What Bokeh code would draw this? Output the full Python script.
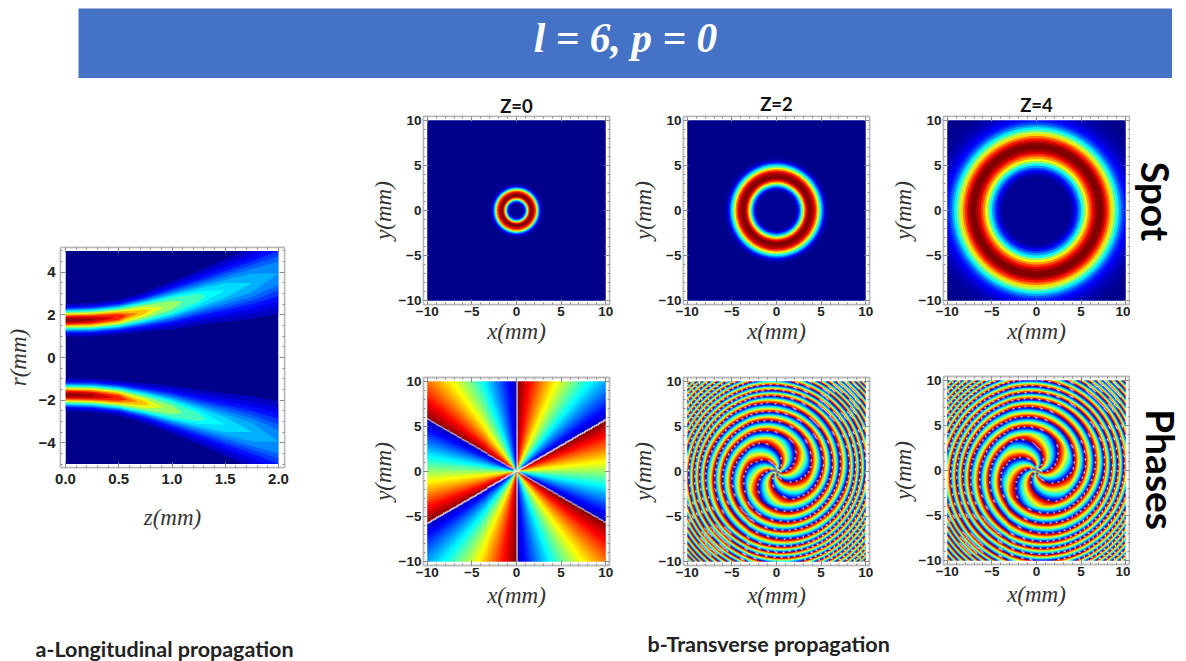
import numpy as np
from bokeh.core.properties import value
from bokeh.embed import file_html
from bokeh.layouts import column, row
from bokeh.models import ColumnDataSource, FixedTicker, LinearAxis, LinearColorMapper, Range1d, Title
from bokeh.plotting import figure
from bokeh.resources import INLINE

# ---------- axes ----------
panel_ticks = [-10, -5, 0, 5, 10]
panel_minor = [-9, -8, -7, -6, -4, -3, -2, -1, 1, 2, 3, 4, 6, 7, 8, 9]
z_ticks = [0.0, 0.5, 1.0, 1.5, 2.0]
z_tick_labels = ["0.0", "0.5", "1.0", "1.5", "2.0"]
z_minor = [0.1, 0.2, 0.3, 0.4, 0.6, 0.7, 0.8, 0.9, 1.1, 1.2, 1.3, 1.4, 1.6, 1.7, 1.8, 1.9]
r_ticks = [-4, -2, 0, 2, 4]
r_minor = [-5, -4.5, -3.5, -3, -2.5, -1.5, -1, -0.5, 0.5, 1, 1.5, 2.5, 3, 3.5, 4.5, 5]

# ---------- transverse spots: ring outer radius (mm) and intensity ----------
spot0_r = [3.1, 3.0, 2.9, 2.8, 2.7, 2.6, 2.5, 2.4, 2.3, 2.2, 2.05, 1.9, 1.8, 1.7, 1.6, 1.5, 1.4, 1.3, 1.2, 1.1, 1.0, 0.9, 0.8, 0.7]
spot0_v = [.01, .02, .04, .08, .14, .24, .36, .50, .66, .80, .90, .97, 1.0, 1.0, .97, .88, .74, .58, .42, .26, .14, .07, .03, .01]
spot2_r = [5.95, 5.8, 5.65, 5.5, 5.35, 5.2, 5.05, 4.9, 4.75, 4.6, 4.45, 4.3, 4.1, 3.85, 3.7, 3.55, 3.4, 3.25, 3.1, 2.95, 2.8, 2.65, 2.5, 2.35, 2.2, 2.05]
spot2_v = [.01, .02, .05, .10, .17, .27, .37, .49, .62, .74, .84, .92, .98, 1.0, 1.0, .95, .86, .74, .60, .45, .32, .20, .11, .05, .02, .01]
spot4_r = [13, 12.5, 12, 11.5, 11, 10.75, 10.5, 10.25, 10, 9.75, 9.5, 9.25, 9, 8.75, 8.5, 8.25, 8, 7.75, 7.5, 7.25, 7, 6.75, 6.5, 6.25, 6, 5.75, 5.5, 5.25, 5, 4.75, 4.5, 4.25, 4, 3.75]
spot4_v = [.005, .01, .02, .04, .06, .08, .10, .13, .16, .21, .28, .36, .45, .56, .66, .76, .85, .93, .99, 1.0, 1.0, .96, .90, .82, .73, .63, .50, .38, .28, .19, .12, .06, .03, .01]

# ---------- phases: radii (mm) where a fringe crosses the +x ray ----------
fringes_z0 = []
fringes_z2 = [1.0, 3.6, 5.0, 6.1, 7.0, 8.0, 8.7, 9.3, 9.9, 10.5, 11.0, 11.5, 12.0, 12.5, 13.0, 13.4, 13.8, 14.2]
fringes_z4 = [1.3, 4.0, 5.3, 6.4, 7.5, 8.3, 9.0, 9.7, 10.4, 11.0, 11.5, 12.0, 12.5, 13.0, 13.5, 14.0, 14.4]

# ---------- longitudinal beam: contour radii at each z station, one row per intensity level ----------
z_stations = [0.0, 0.25, 0.5, 0.75, 1.0, 1.25, 1.5, 1.75, 2.0]
levels = [.04, .08, .12, .16, .20, .24, .28, .32, .36, .40, .48, .56, .64, .72, .80, .88, .96]
level_inner = [
    [.99, 1.00, 1.09, 1.22, 1.33, 1.53, 1.68, 1.82, 2.06],
    [1.08, 1.09, 1.18, 1.33, 1.48, 1.71, 1.90, 2.08, 2.37],
    [1.13, 1.14, 1.23, 1.40, 1.58, 1.84, 2.06, 2.29, 2.63],
    [1.18, 1.19, 1.29, 1.48, 1.68, 1.97, 2.23, 2.50, 2.89],
    [1.21, 1.22, 1.33, 1.53, 1.75, 2.07, 2.36, 2.67, 3.14],
    [1.24, 1.26, 1.37, 1.58, 1.83, 2.17, 2.50, 2.85, 3.40],
    [1.27, 1.29, 1.40, 1.62, 1.89, 2.26, 2.65, 3.06],
    [1.30, 1.32, 1.43, 1.67, 1.96, 2.36, 2.80],
    [1.32, 1.34, 1.46, 1.71, 2.02, 2.48],
    [1.34, 1.37, 1.49, 1.75, 2.09, 2.61],
    [1.39, 1.41, 1.54, 1.83, 2.25],
    [1.43, 1.46, 1.59, 1.92],
    [1.47, 1.50, 1.64, 2.05],
    [1.51, 1.54, 1.70],
    [1.55, 1.59, 1.77],
    [1.60, 1.64],
    [1.66, 1.74],
]
level_outer = [
    [2.51, 2.56, 2.71, 3.08, 3.57, 4.07, 4.62, 5.18, 5.84],
    [2.42, 2.47, 2.62, 2.97, 3.42, 3.89, 4.40, 4.92, 5.53],
    [2.37, 2.42, 2.56, 2.89, 3.32, 3.76, 4.23, 4.71, 5.27],
    [2.32, 2.37, 2.51, 2.82, 3.22, 3.63, 4.07, 4.50, 5.01],
    [2.29, 2.33, 2.47, 2.77, 3.14, 3.53, 3.93, 4.33, 4.75],
    [2.26, 2.30, 2.43, 2.72, 3.07, 3.43, 3.80, 4.15, 4.50],
    [2.23, 2.27, 2.40, 2.67, 3.00, 3.33, 3.65, 3.94],
    [2.20, 2.24, 2.37, 2.63, 2.94, 3.24, 3.50],
    [2.18, 2.22, 2.34, 2.59, 2.88, 3.12],
    [2.16, 2.19, 2.31, 2.55, 2.81, 2.99],
    [2.11, 2.15, 2.26, 2.47, 2.65],
    [2.07, 2.10, 2.21, 2.38],
    [2.03, 2.06, 2.16, 2.25],
    [1.99, 2.02, 2.10],
    [1.95, 1.97, 2.03],
    [1.90, 1.92],
    [1.84, 1.82],
]
tip_z = [None, None, None, None, None, None, 2.0, 1.75, 1.50, 1.32, 1.10, 0.92, 0.79, 0.68, 0.58, 0.47, 0.28]
tip_r = [None, None, None, None, None, None, 3.95, 3.50, 3.15, 2.90, 2.60, 2.35, 2.20, 2.08, 1.98, 1.88, 1.79]

# ---------- colour stops of the picture's colour scale ----------
jet_pos = [0, .125, .375, .625, .875, 1]
jet_rgb = [(0, 0, 139), (0, 0, 255), (0, 255, 255), (255, 255, 0), (255, 0, 0), (128, 0, 0)]
t = np.linspace(0, 1, 256)
JET = ["#%02x%02x%02x" % tuple(int(round(np.interp(u, jet_pos, [c[i] for c in jet_rgb]))) for i in range(3)) for u in t]
cmap = LinearColorMapper(palette=JET, low=0, high=1, high_color="white")

GRAY = "#b9b9b9"
TICK = "#8a8a8a"
SANS = "Liberation Sans"
SERIF = "Liberation Serif"
CAP = "Lato"


def style_axes(p, xticks, xminor, yticks, yminor, xover=None):
    for place, ticks, minor in (("above", xticks, xminor), ("right", yticks, yminor)):
        ax = LinearAxis(ticker=FixedTicker(ticks=ticks, minor_ticks=minor),
                        major_label_text_font_size="0px", major_label_text_color=None,
                        major_label_standoff=0)
        p.add_layout(ax, place)
    bottom, lft = p.below[0], p.left[0]
    bottom.ticker = FixedTicker(ticks=xticks, minor_ticks=xminor)
    lft.ticker = FixedTicker(ticks=yticks, minor_ticks=yminor)
    for ax in (bottom, lft, p.above[0], p.right[0]):
        ax.axis_line_color = GRAY
        ax.axis_line_width = 1.5
        ax.major_tick_line_color = TICK
        ax.minor_tick_line_color = TICK
        ax.major_tick_in = 5
        ax.major_tick_out = 0
        ax.minor_tick_in = 2
        ax.minor_tick_out = 0
    for ax in (bottom, lft):
        ax.major_label_text_font = SANS
        ax.major_label_text_font_size = "13.5px"
        ax.major_label_text_font_style = "bold"
        ax.major_label_text_color = "#222222"
        ax.major_label_standoff = 2
        ax.axis_label_text_font = SERIF
        ax.axis_label_text_font_style = "italic"
        ax.axis_label_text_font_size = "23px"
        ax.axis_label_text_color = "#333333"
        ax.axis_label_standoff = 0
    lft.major_label_orientation = "horizontal"
    p.xgrid.visible = False
    p.ygrid.visible = False
    p.outline_line_color = GRAY
    p.outline_line_width = 1.5
    p.frame_align = False
    if xover:
        bottom.major_label_overrides = xover


def mask(p, x0, x1, y0, y1, xr, yr):
    """White margin between the picture area and the plot frame."""
    p.quad(left=[-xr, x1, -xr, -xr], right=[x0, xr, xr, xr],
           bottom=[-yr, -yr, -yr, y1], top=[yr, yr, y0, yr],
           fill_color="white", line_color=None)


def panel(top, bottom, left=57, right=17):
    half = 10.42
    p = figure(frame_width=186, frame_height=188, x_range=Range1d(-half, half), y_range=Range1d(-half, half),
               toolbar_location=None, output_backend="svg", x_axis_label="x(mm)", y_axis_label="y(mm)",
               min_border_left=left, min_border_right=right, min_border_top=top, min_border_bottom=bottom)
    style_axes(p, panel_ticks, panel_minor, panel_ticks, panel_minor)
    return p


def spot(radii, vals, title, off, right=17):
    p = panel(38, 56, right=right)
    rr = [15.0] + list(radii)
    vv = [0.0] + list(vals)
    src = ColumnDataSource(dict(w=[2 * r for r in rr], v=vv))
    p.ellipse(x=0, y=0, width="w", height="w", source=src, line_color=None,
              fill_color={"field": "v", "transform": cmap})
    mask(p, -10, 10, -10, 10, 11, 11)
    p.title = Title(text=title, align="center", standoff=off, text_font=CAP, text_font_style="bold",
                    text_font_size="18.5px", text_color="#111111")
    return p


def phase(fringes, top=17, bottom=60, right=17):
    p = panel(top, bottom, right=right)
    p.below[0].axis_label_standoff = 3
    g = np.linspace(-10, 10, 180)
    xx, yy = np.meshgrid(g, g)
    rr = np.hypot(xx, yy)
    th = np.arctan2(yy, xx)
    if fringes:
        c = np.interp(rr, [0.0] + list(fringes), [0.0] + [k + 0.5 for k in range(len(fringes))])
    else:
        c = np.zeros_like(rr)
    v = (6 * th / (2 * np.pi) + 0.5 - c) % 1.0
    edge = np.zeros_like(v, dtype=bool)
    edge[:, 1:] |= np.abs(np.diff(v, axis=1)) > 0.5
    edge[1:, :] |= np.abs(np.diff(v, axis=0)) > 0.5
    if fringes:
        i, j = np.indices(v.shape)
        edge &= (i + j) % 7 < 2
    v = 0.05 + 0.95 * v
    v[edge] = 1.05
    p.image(image=[v], x=-10, y=-10, dw=20, dh=20, color_mapper=cmap)
    return p


# ---------- left plot ----------
left = figure(frame_width=224, frame_height=220, x_range=Range1d(-0.047, 2.056), y_range=Range1d(-5.16, 5.16),
              toolbar_location=None, output_backend="svg", x_axis_label="z(mm)", y_axis_label="r(mm)",
              min_border_left=59, min_border_right=82, min_border_top=169, min_border_bottom=158)
style_axes(left, z_ticks, z_minor, r_ticks, r_minor, xover={a: b for a, b in zip(z_ticks, z_tick_labels)})
left.below[0].major_label_text_font_size = "15px"
left.left[0].major_label_text_font_size = "15px"
left.below[0].major_label_standoff = 6
left.left[0].major_label_standoff = 5
left.below[0].axis_label_standoff = 18
left.left[0].axis_label_standoff = 4
left.quad(left=[z_stations[0]], right=[z_stations[-1]], bottom=[-6], top=[6], fill_color=JET[0], line_color=None)
xs, ys, vs = [], [], []
for i, lev in enumerate(levels):
    inner, outer, tz, tr = level_inner[i], level_outer[i], tip_z[i], tip_r[i]
    zs = z_stations[:len(inner)]
    px = list(zs) + ([tz] if tz is not None else []) + list(zs[::-1])
    pr = list(inner) + ([tr] if tr is not None else []) + list(outer[::-1])
    step = (levels[i + 1] - lev) if i + 1 < len(levels) else 0.04
    for sign in (1, -1):
        xs.append(px)
        ys.append([sign * q for q in pr])
        vs.append(lev + step / 2)
left.patches(xs="xs", ys="ys", source=ColumnDataSource(dict(xs=xs, ys=ys, v=vs)), line_color=None,
             fill_color={"field": "v", "transform": cmap})
mask(left, z_stations[0], z_stations[-1], -5, 5, 2.2, 6)

# ---------- banner ----------
banner = figure(width=1094, height=70, x_range=(78, 1172), y_range=(78, 8), x_axis_type=None, y_axis_type=None,
                toolbar_location=None, output_backend="svg", min_border=0, outline_line_color=None,
                background_fill_color="#4472c4", margin=(0, 0, 0, 77))
banner.text(x=[625], y=[37], text=["l = 6, p = 0"], text_color="white", text_align="center", text_baseline="middle",
            text_font=value(SERIF), text_font_style="bold italic", text_font_size="41.5px")

# ---------- side labels ----------
side = figure(width=55, height=547, x_range=(1130, 1185), y_range=(625, 78), x_axis_type=None, y_axis_type=None,
              toolbar_location=None, output_backend="svg", min_border=0, outline_line_color=None, frame_align=False)
side.text(x=[1155, 1160], y=[201, 469], text=["Spot", "Phases"], angle=-np.pi / 2, text_align="center",
          text_baseline="middle", text_font=value(CAP), text_font_style="bold", text_font_size="39px",
          text_color="#000000")

# ---------- captions ----------
caps = figure(width=1177, height=36, x_range=(1, 1178), y_range=(661, 625), x_axis_type=None, y_axis_type=None,
              toolbar_location=None, output_backend="svg", min_border=0, outline_line_color=None)
caps.text(x=[35, 647], y=[648, 643], text=["a-Longitudinal propagation", "b-Transverse propagation"],
          text_align="left", text_baseline="middle", text_font=value(CAP), text_font_style="bold",
          text_font_size="21.5px", text_color="#222222")

col1 = column(spot(spot0_r, spot0_v, "Z=0", 0), phase(fringes_z0))
col2 = column(spot(spot2_r, spot2_v, "Z=2", 4), phase(fringes_z2))
col3 = column(spot(spot4_r, spot4_v, "Z=4", 1, right=1), phase(fringes_z4, top=16, bottom=61, right=1))

root = column(banner, row(left, col1, col2, col3, side), caps, margin=(8, 0, 0, 1))
open("out.html", "w").write(file_html(root, INLINE))
